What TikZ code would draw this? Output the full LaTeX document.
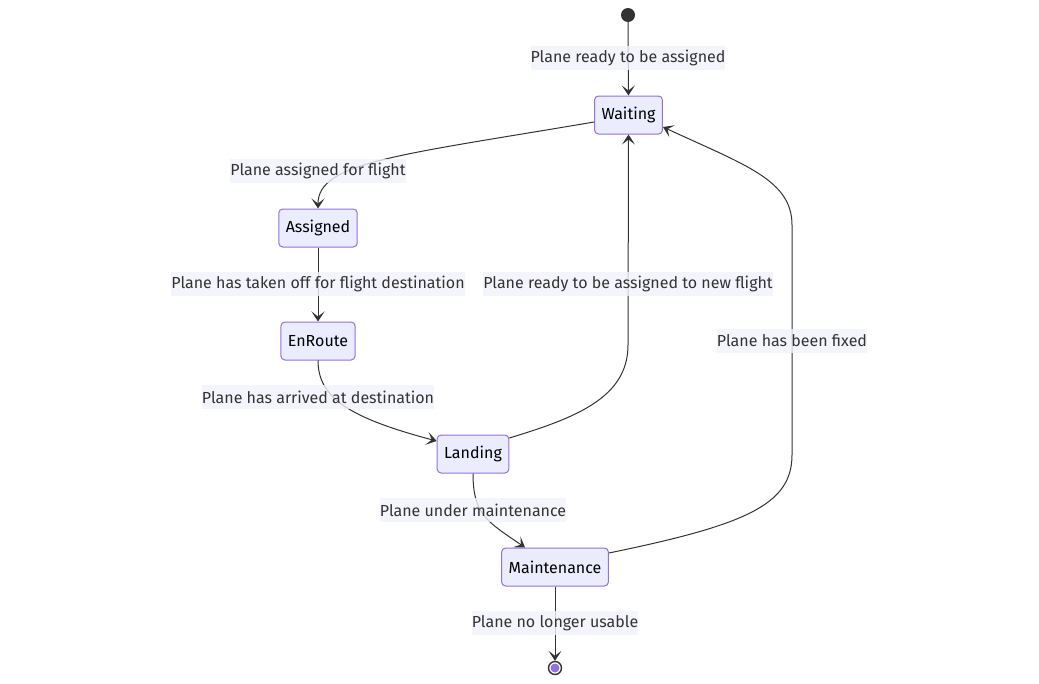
\documentclass[tikz,border=0pt]{standalone}
\usepackage{fontspec}
\setmainfont{Fira Sans}
\usepackage{xcolor}
\usetikzlibrary{calc, arrows.meta}

\definecolor{statefill}{HTML}{ECECFF}
\definecolor{statedraw}{HTML}{9370DB}
\definecolor{edgecol}{HTML}{333333}
\definecolor{labelbg}{HTML}{F1F1FB}

\tikzset{
    state/.style={rectangle, rounded corners=4pt, draw=statedraw, fill=statefill, line width=1pt, minimum height=38pt, inner xsep=7pt, font=\fontsize{16}{19}\selectfont},
    trans/.style={draw=edgecol, line width=1pt, -{Stealth[length=10pt, width=13pt, inset=5pt]}},
    translabel/.style={fill=labelbg, fill opacity=0.8, text opacity=1, text=edgecol, inner xsep=0pt, minimum height=24pt, font=\fontsize{16}{19}\selectfont}
}

\begin{document}
\begin{tikzpicture}[x=1pt, y=-1pt]

        \useasboundingbox (0,0) rectangle (1039,683);

        %% Start and end
        \node (start) [circle, fill=edgecol, minimum size=14pt, inner sep=0pt] at (628,15) {};
        \node (stop) [circle, draw=edgecol, fill=white, line width=1.4pt, minimum size=13pt, inner sep=0pt] at (555,668) {};
        \fill [statedraw] (stop) circle (4.5);

        %% States
        \node (waiting) [state] at (628.5,115) {Waiting};
        \node (assigned) [state] at (318,228) {Assigned};
        \node (enroute) [state] at (318,341) {EnRoute};
        \node (landing) [state] at (473,454) {Landing};
        \node (maintenance) [state] at (555,567) {Maintenance};

        %% Transitions
        \draw [trans] (start) -- (waiting);
        \draw [trans] ($(waiting.west) + (0,7)$) .. controls (400,155) and (318,162) .. (assigned.north);
        \draw [trans] (assigned) -- (enroute);
        \draw [trans] (enroute.south) .. controls (318,398) and (350,418) .. ($(landing.west) + (0,-13)$);
        \draw [trans] ($(landing.east) + (0,-16)$) .. controls (575,418) and (628,398) .. (628,345) -- (waiting.south);
        \draw [trans] (landing.south) .. controls (473,515) and (488,522) .. ($(maintenance.north) + (-30,0)$);
        \draw [trans] ($(maintenance.east) + (0,-14)$) .. controls (745,525) and (792,505) .. (792,455) -- (792,225) .. controls (792,180) and (745,165) .. ($(waiting.east) + (0,12)$);
        \draw [trans] (maintenance) -- (stop);

        %% Labels
        \node (l1) [translabel] at (628,58) {Plane ready to be assigned};
        \node (l2) [translabel] at (318,171) {Plane assigned for flight};
        \node (l3) [translabel] at (318,284) {Plane has taken off for flight destination};
        \node (l4) [translabel] at (628,284) {Plane ready to be assigned to new flight};
        \node (l5) [translabel] at (792,341) {Plane has been fixed};
        \node (l6) [translabel] at (318,397) {Plane has arrived at destination};
        \node (l7) [translabel] at (473,510) {Plane under maintenance};
        \node (l8) [translabel] at (555,623) {Plane no longer usable};

    \end{tikzpicture}
\end{document}
